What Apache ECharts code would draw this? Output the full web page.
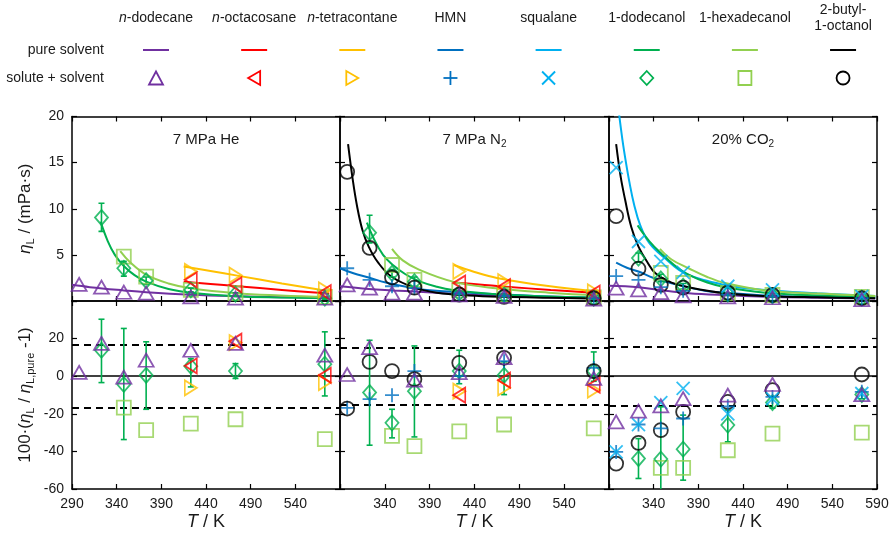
<!DOCTYPE html>
<html>
<head>
<meta charset="utf-8">
<script src="https://cdn.jsdelivr.net/npm/echarts@6/dist/echarts.min.js"></script>
<style>
  html, body { margin: 0; padding: 0; background: #fff; }
  #chart { width: 895px; height: 538px; }
</style>
</head>
<body>
<div id="chart"></div>
<script>
// ---- temperatures and ticks (K) ----
const temps = [298, 323, 348, 373, 423, 473, 573];
const tempTicks = [290, 340, 390, 440, 490, 540, 590];
const tempLabelsHe = [290, 340, 390, 440, 490, 540];
const tempLabelsN2 = [340, 390, 440, 490, 540];
const tempLabelsCO2 = [340, 390, 440, 490, 540, 590];
const viscLabels = [5, 10, 15, 20];
const devLabels = [-60, -40, -20, 0, 20];

const solvents = ['n-dodecane', 'n-octacosane', 'n-tetracontane', 'HMN', 'squalane', '1-dodecanol', '1-hexadecanol', '2-butyl-1-octanol'];
const legendHeaders = ['{i|n}-dodecane', '{i|n}-octacosane', '{i|n}-tetracontane', 'HMN', 'squalane', '1-dodecanol', '1-hexadecanol', '2-butyl-\n1-octanol'];
const panelTitles = ['7 MPa He', '7 MPa N{s|2}', '20% CO{s|2}'];
const bandHalfWidth = [16.6, 15.2, 15.6];

// ---- 7 MPa He: viscosity of solute + solvent (mPa s) ----
const heDodecane = [1.8, 1.5, 0.95, 0.85, 0.45, 0.32, 0.3];
const heOctacosane = [null, null, null, null, 2.3, 1.75, 0.9];
const heTetracontane = [null, null, null, null, 3.2, 2.8, 1.2];
const heDodecanol = [null, 9.05, 3.55, 2.2, 1.2, 0.75, 0.3];
const heDodecanolErrLo = [null, 7.55, 2.7, 1.8, 1.0, 0.6, 0.2];
const heDodecanolErrHi = [null, 10.6, 4.3, 2.6, 1.4, 0.9, 0.4];
const heHexadecanol = [null, null, 4.8, 2.65, 1.2, 0.85, 0.45];
// pure solvent curves [T, viscosity]
const heDodecanePure = [[290, 1.75], [310, 1.5], [348, 1.15], [373, 0.95], [423, 0.68], [473, 0.52], [523, 0.42], [578, 0.35]];
const heOctacosanePure = [[415, 2.1], [445, 1.85], [475, 1.6], [525, 1.2], [578, 0.8]];
const heTetracontanePure = [[415, 3.75], [445, 3.25], [475, 2.75], [525, 1.9], [578, 1.05]];
const heDodecanolPure = [[322, 8.6], [330, 6.5], [338, 5.0], [348, 3.8], [360, 2.8], [373, 2.1], [398, 1.3], [423, 0.9], [473, 0.52], [523, 0.38], [578, 0.3]];
const heHexadecanolPure = [[344, 5.4], [355, 4.2], [373, 2.85], [398, 1.9], [423, 1.38], [473, 0.85], [523, 0.6], [578, 0.43]];
// relative deviation from pure solvent (%)
const heDodecaneDev = [2.0, 17.5, -0.5, 8.5, 13.8, 17.5, 11.2];
const heOctacosaneDev = [null, null, null, null, 5.5, 18.6, 0.5];
const heTetracontaneDev = [null, null, null, null, -6.2, 17.9, -3.4];
const heDodecanolDev = [null, 13.8, -4.4, 0.5, 5.3, 2.7, 6.4];
const heDodecanolDevLo = [null, -3.4, -33.7, -17.6, -5.7, -1.2, -10.5];
const heDodecanolDevHi = [null, 30.3, 25.4, 18.3, 9.4, 6.7, 23.6];
const heHexadecanolDev = [null, null, -16.7, -28.7, -25.2, -22.9, -33.5];

// ---- 7 MPa N2 ----
const n2Dodecane = [1.75, 1.4, 0.85, 0.85, 0.65, 0.5, 0.2];
const n2Octacosane = [null, null, null, null, 1.95, 1.55, 0.85];
const n2Tetracontane = [null, null, null, null, 3.2, 2.1, 1.0];
const n2HMN = [3.55, 2.3, 1.6, 1.4, 0.8, 0.55, 0.3];
const n2Dodecanol = [null, 7.4, 3.0, 2.1, 0.85, 0.65, 0.3];
const n2DodecanolErrLo = [null, 6.3, 2.6, 1.6, 0.7, 0.5, 0.2];
const n2DodecanolErrHi = [null, 9.3, 3.4, 2.6, 1.0, 0.8, 0.4];
const n2Hexadecanol = [null, null, 3.9, 2.3, 1.15, 0.7, 0.4];
const n2Octanol = [14.0, 5.75, 2.55, 1.45, 0.7, 0.45, 0.3];
const n2DodecanePure = [[290, 1.6], [322, 1.3], [348, 1.15], [378, 1.0], [434, 0.7], [473, 0.55], [523, 0.42], [581, 0.3]];
const n2OctacosanePure = [[417, 2.0], [445, 1.8], [475, 1.55], [525, 1.2], [581, 0.85]];
const n2TetracontanePure = [[417, 3.9], [440, 3.15], [465, 2.5], [520, 1.65], [581, 1.0]];
const n2HMNPure = [[290, 3.55], [305, 3.0], [322, 2.55], [341, 2.0], [378, 1.3], [416, 1.0], [464, 0.73], [523, 0.5], [581, 0.35]];
const n2DodecanolPure = [[320, 8.5], [328, 6.7], [338, 5.0], [349, 3.9], [363, 2.9], [378, 2.15], [398, 1.55], [416, 1.2], [464, 0.73], [523, 0.5], [581, 0.35]];
const n2HexadecanolPure = [[348, 5.65], [360, 4.4], [378, 3.4], [416, 2.1], [464, 1.38], [523, 0.9], [581, 0.6]];
const n2OctanolPure = [[299, 17], [304, 13.3], [309, 10.3], [315, 7.7], [322, 5.9], [333, 4.1], [348, 2.6], [373, 1.45], [398, 0.9], [434, 0.6], [473, 0.45], [523, 0.35], [581, 0.25]];
const n2DodecaneDev = [0.9, 15.2, null, -2.1, 1.9, 9.8, -1.2];
const n2OctacosaneDev = [null, null, null, null, -10.1, -2.1, -4.8];
const n2TetracontaneDev = [null, null, null, null, -8.0, -6.2, -7.4];
const n2HMNDev = [-16.8, -12.2, -10.1, 2.7, 0, 8, 4.4];
const n2DodecanolDev = [null, -8.7, -24.8, -8.0, 2.7, 0.5, 2.7];
const n2DodecanolDevLo = [null, -36.7, -32.8, -32.3, -4, -9.8, -2.7];
const n2DodecanolDevHi = [null, 19.1, -17.6, 16.1, 13.8, 7.6, 12.9];
const n2HexadecanolDev = [null, null, -31.7, -37.2, -29.3, -25.7, -27.8];
const n2OctanolDev = [-17.2, 7.6, 2.7, -1.6, 7.1, 9.8, 2.7];

// ---- 20% CO2 ----
const co2Dodecane = [1.4, 1.2, 0.9, 0.55, 0.45, 0.35, 0.15];
const co2HMN = [2.7, 2.3, 1.5, 1.1, 0.7, 0.5, 0.3];
const co2Squalane = [14.45, 6.45, 4.3, 3.1, 1.6, 1.2, 0.5];
const co2Dodecanol = [null, 4.65, 2.4, 1.6, 0.75, 0.55, 0.3];
const co2DodecanolErrLo = [null, 4.2, 2.1, 1.3, 0.6, 0.45, 0.2];
const co2DodecanolErrHi = [null, 5.2, 2.9, 1.9, 0.9, 0.65, 0.4];
const co2Hexadecanol = [null, null, 3.05, 1.95, 0.85, 0.65, 0.45];
const co2Octanol = [9.2, 3.5, 1.75, 1.45, 0.9, 0.65, 0.3];
const co2DodecanePure = [[290, 1.65], [323, 1.5], [350, 1.15], [379, 0.85], [423, 0.62], [465, 0.45], [523, 0.35], [588, 0.28]];
const co2HMNPure = [[298, 4.15], [310, 3.6], [323, 3.2], [340, 2.5], [360, 1.93], [397, 1.12], [423, 0.9], [465, 0.6], [523, 0.45], [588, 0.35]];
const co2SqualanePure = [[301, 20.5], [305, 17.5], [309, 15], [313, 12.8], [318, 10.5], [325, 8.2], [335, 6.3], [353, 4.6], [375, 3.0], [420, 1.74], [465, 1.2], [523, 0.85], [588, 0.55]];
const co2DodecanolPure = [[322, 8.2], [335, 6.5], [349, 5.1], [363, 3.9], [379, 2.85], [400, 2.0], [420, 1.5], [465, 0.9], [523, 0.6], [588, 0.45]];
const co2HexadecanolPure = [[347, 5.65], [360, 4.5], [379, 3.55], [400, 2.6], [420, 1.95], [465, 1.15], [523, 0.8], [588, 0.55]];
const co2OctanolPure = [[298, 17], [303, 13.5], [308, 11], [315, 8], [323, 5.9], [333, 4.2], [342, 3.0], [360, 2.0], [379, 1.5], [420, 0.84], [465, 0.55], [523, 0.4], [588, 0.3]];
const co2DodecaneDev = [-24.3, -18.6, -15.8, -11.9, -10.1, -4.4, -9.8];
const co2HMNDev = [-40.3, -25.7, -27.8, -22.5, -16, -11, -8.3];
const co2SqualaneDev = [-40.3, -25.7, -14, -6.5, -20, -12, -9.2];
const co2DodecanolDev = [null, -43.8, -44.1, -38.8, -26, -14, -9.8];
const co2DodecanolDevLo = [null, -54.4, -65, -55.3, -34.9, -17, -12];
const co2DodecanolDevHi = [null, -33.2, -16.3, -20.7, -18, -11, -8];
const co2HexadecanolDev = [null, null, -48.8, -48.8, -39.4, -30.5, -30];
const co2OctanolDev = [-46.5, -35.5, -28.7, -19, -13.7, -7.4, 0.9];

// ---- appearance ----
const FONT = 'Liberation Sans, Arial, sans-serif';
const solventStyle = {
  'n-dodecane':        { color: '#7030A0', symbol: 'triangle', size: [15, 13] },
  'n-octacosane':      { color: '#FF0000', symbol: 'path://M0,6L12,0L12,12Z', size: [12, 15] },
  'n-tetracontane':    { color: '#FFC000', symbol: 'path://M12,6L0,0L0,12Z', size: [12, 15] },
  'HMN':               { color: '#0070C0', symbol: 'path://M6,0L6,12M0,6L12,6', size: [14, 14] },
  'squalane':          { color: '#00B0F0', symbol: 'path://M0,0L12,12M12,0L0,12', size: [13, 13] },
  '1-dodecanol':       { color: '#00B050', symbol: 'diamond', size: [13, 15] },
  '1-hexadecanol':     { color: '#92D050', symbol: 'rect', size: [14, 14] },
  '2-butyl-1-octanol': { color: '#000000', symbol: 'circle', size: [14, 14] }
};

const panels = [
  {
    labels: tempLabelsHe, band: bandHalfWidth[0],
    pure: [['n-dodecane', heDodecanePure], ['n-octacosane', heOctacosanePure], ['n-tetracontane', heTetracontanePure],
           ['1-dodecanol', heDodecanolPure], ['1-hexadecanol', heHexadecanolPure]],
    points: [['1-hexadecanol', heHexadecanol], ['1-dodecanol', heDodecanol], ['n-tetracontane', heTetracontane],
             ['n-octacosane', heOctacosane], ['n-dodecane', heDodecane]],
    err: [['1-dodecanol', heDodecanolErrLo, heDodecanolErrHi]],
    dev: [['1-hexadecanol', heHexadecanolDev], ['1-dodecanol', heDodecanolDev], ['n-tetracontane', heTetracontaneDev],
          ['n-octacosane', heOctacosaneDev], ['n-dodecane', heDodecaneDev]],
    devErr: [['1-dodecanol', heDodecanolDevLo, heDodecanolDevHi]]
  },
  {
    labels: tempLabelsN2, band: bandHalfWidth[1],
    pure: [['n-dodecane', n2DodecanePure], ['n-octacosane', n2OctacosanePure], ['n-tetracontane', n2TetracontanePure],
           ['HMN', n2HMNPure], ['1-dodecanol', n2DodecanolPure], ['1-hexadecanol', n2HexadecanolPure],
           ['2-butyl-1-octanol', n2OctanolPure]],
    points: [['1-hexadecanol', n2Hexadecanol], ['1-dodecanol', n2Dodecanol], ['n-tetracontane', n2Tetracontane],
             ['n-octacosane', n2Octacosane], ['HMN', n2HMN], ['2-butyl-1-octanol', n2Octanol], ['n-dodecane', n2Dodecane]],
    err: [['1-dodecanol', n2DodecanolErrLo, n2DodecanolErrHi]],
    dev: [['1-hexadecanol', n2HexadecanolDev], ['1-dodecanol', n2DodecanolDev], ['n-tetracontane', n2TetracontaneDev],
          ['n-octacosane', n2OctacosaneDev], ['HMN', n2HMNDev], ['2-butyl-1-octanol', n2OctanolDev], ['n-dodecane', n2DodecaneDev]],
    devErr: [['1-dodecanol', n2DodecanolDevLo, n2DodecanolDevHi]]
  },
  {
    labels: tempLabelsCO2, band: bandHalfWidth[2],
    pure: [['n-dodecane', co2DodecanePure], ['HMN', co2HMNPure], ['squalane', co2SqualanePure],
           ['1-dodecanol', co2DodecanolPure], ['1-hexadecanol', co2HexadecanolPure], ['2-butyl-1-octanol', co2OctanolPure]],
    points: [['1-hexadecanol', co2Hexadecanol], ['1-dodecanol', co2Dodecanol], ['2-butyl-1-octanol', co2Octanol],
             ['HMN', co2HMN], ['squalane', co2Squalane], ['n-dodecane', co2Dodecane]],
    err: [['1-dodecanol', co2DodecanolErrLo, co2DodecanolErrHi]],
    dev: [['1-hexadecanol', co2HexadecanolDev], ['1-dodecanol', co2DodecanolDev], ['2-butyl-1-octanol', co2OctanolDev],
          ['HMN', co2HMNDev], ['squalane', co2SqualaneDev], ['n-dodecane', co2DodecaneDev]],
    devErr: [['1-dodecanol', co2DodecanolDevLo, co2DodecanolDevHi]]
  }
];

// ---- layout ----
const colLeft = [72, 340, 609];
const colWidth = [268, 269, 268];
const rowTop = [116.5, 301];
const rowHeight = [184.5, 188];

const grids = [];
const xAxes = [];
const yAxes = [];
const series = [];

const axisLine = { show: true, onZero: false, lineStyle: { color: '#000', width: 1.5 } };
const tickStyle = { color: '#000', width: 1.2 };
const labelStyle = { fontSize: 14, color: '#1a1a1a', fontFamily: FONT };
const subRich = {
  i: { fontStyle: 'italic', fontSize: 17, fontFamily: FONT, color: '#1a1a1a' },
  n: { fontSize: 17, fontFamily: FONT, color: '#1a1a1a' },
  s: { fontSize: 11, fontFamily: FONT, color: '#1a1a1a', padding: [11, 0, 0, 0] }
};

for (let r = 0; r < 2; r++) {
  for (let c = 0; c < 3; c++) {
    const g = r * 3 + c;
    grids.push({ left: colLeft[c], top: rowTop[r], width: colWidth[c], height: rowHeight[r], containLabel: false });
    const xBase = {
      type: 'value', gridIndex: g, min: 290, max: 590, axisLine,
      axisTick: { show: true, inside: true, length: 5, customValues: tempTicks, lineStyle: tickStyle },
      splitLine: { show: false }
    };
    const xBottom = Object.assign({}, xBase, {
      position: 'bottom',
      axisLabel: r === 1 ? Object.assign({ show: true, customValues: panels[c].labels, margin: 8 }, labelStyle) : { show: false }
    });
    if (r === 1) {
      Object.assign(xBottom, {
        name: '{i|T}{n| / K}', nameLocation: 'middle', nameGap: 24,
        nameTextStyle: { rich: { i: { fontStyle: 'italic', fontSize: 18, fontFamily: FONT, color: '#1a1a1a' },
                                 n: { fontSize: 18, fontFamily: FONT, color: '#1a1a1a' } } }
      });
    }
    const xTop = Object.assign({}, xBase, { position: 'top', axisLabel: { show: false } });
    xAxes.push(xBottom, xTop);

    const yRange = r === 0 ? { min: 0, max: 20, interval: 5 } : { min: -60, max: 40, interval: 20 };
    const yBase = Object.assign({
      type: 'value', gridIndex: g, axisLine,
      axisTick: { show: true, inside: true, length: 5, lineStyle: tickStyle },
      splitLine: { show: false }
    }, yRange);
    const yLeft = Object.assign({}, yBase, {
      position: 'left',
      axisLabel: c === 0 ? Object.assign({ show: true, customValues: r === 0 ? viscLabels : devLabels, margin: 8 }, labelStyle) : { show: false }
    });
    if (c === 0) {
      Object.assign(yLeft, {
        name: r === 0 ? '{i|η}{s|L}{n| / (mPa·s)}' : '{n|100·(}{i|η}{s|L}{n| / }{i|η}{s|L,pure}{n| -1)}',
        nameLocation: 'middle', nameRotate: 90, nameGap: 36,
        nameTextStyle: { rich: subRich }
      });
    }
    const yRight = Object.assign({}, yBase, { position: 'right', axisLabel: { show: false } });
    yAxes.push(yLeft, yRight);
  }
}

function pointData(values) {
  return temps.map((t, k) => (values[k] == null ? null : [t, values[k]])).filter(Boolean);
}

function scatterSeries(name, values, axisIdx) {
  const st = solventStyle[name];
  return {
    type: 'scatter', name, xAxisIndex: axisIdx, yAxisIndex: axisIdx, data: pointData(values),
    symbol: st.symbol, symbolSize: st.size, z: 5, clip: true,
    itemStyle: { color: 'rgba(0,0,0,0)', borderColor: st.color, borderWidth: 1.8 },
    emphasis: { disabled: true }
  };
}

function curveSeries(name, pts, axisIdx) {
  return {
    type: 'line', name: name + ' (pure)', xAxisIndex: axisIdx, yAxisIndex: axisIdx, data: pts,
    smooth: 0.4, showSymbol: false, symbol: 'none', clip: true, z: 2,
    lineStyle: { color: solventStyle[name].color, width: 2 },
    emphasis: { disabled: true }
  };
}

function errorSeries(name, lows, highs, axisIdx) {
  const color = solventStyle[name].color;
  const data = temps.map((t, k) => (lows[k] == null ? null : [t, lows[k], highs[k]])).filter(Boolean);
  return {
    type: 'custom', name: name + ' (error)', xAxisIndex: axisIdx, yAxisIndex: axisIdx, data, z: 3, clip: true,
    encode: { x: 0, y: [1, 2] },
    renderItem(params, api) {
      const t = api.value(0);
      const lo = api.coord([t, api.value(1)]);
      const hi = api.coord([t, api.value(2)]);
      const cap = 3;
      const style = { stroke: color, lineWidth: 1.6 };
      return {
        type: 'group',
        children: [
          { type: 'line', shape: { x1: lo[0], y1: lo[1], x2: hi[0], y2: hi[1] }, style },
          { type: 'line', shape: { x1: lo[0] - cap, y1: lo[1], x2: lo[0] + cap, y2: lo[1] }, style },
          { type: 'line', shape: { x1: hi[0] - cap, y1: hi[1], x2: hi[0] + cap, y2: hi[1] }, style }
        ]
      };
    }
  };
}

panels.forEach((p, c) => {
  const topAxis = 2 * c;
  const botAxis = 2 * (3 + c);
  p.pure.forEach(([name, pts]) => series.push(curveSeries(name, pts, topAxis)));
  p.err.forEach(([name, lo, hi]) => series.push(errorSeries(name, lo, hi, topAxis)));
  p.points.forEach(([name, vals]) => series.push(scatterSeries(name, vals, topAxis)));

  p.devErr.forEach(([name, lo, hi]) => series.push(errorSeries(name, lo, hi, botAxis)));
  p.dev.forEach(([name, vals], k) => {
    const s = scatterSeries(name, vals, botAxis);
    if (k === 0) {
      s.markLine = {
        silent: true, symbol: ['none', 'none'], label: { show: false }, animation: false, z: 1,
        data: [
          { yAxis: 0, lineStyle: { type: 'solid', width: 1.5, color: '#000' } },
          { yAxis: p.band, lineStyle: { type: [7, 5], width: 2, color: '#000' } },
          { yAxis: -p.band, lineStyle: { type: [7, 5], width: 2, color: '#000' } }
        ]
      };
    }
    series.push(s);
  });
});

// ---- panel titles and legend ----
const graphics = [];
const titleRich = {
  n: { fontSize: 15, fontFamily: FONT, fill: '#1a1a1a' },
  s: { fontSize: 10, fontFamily: FONT, fill: '#1a1a1a', padding: [9, 0, 0, 0] }
};
panelTitles.forEach((txt, c) => {
  const parts = txt.split('{s|');
  const text = '{n|' + parts[0] + '}' + (parts[1] ? '{s|' + parts[1] : '');
  graphics.push({
    type: 'text', x: colLeft[c] + colWidth[c] / 2, y: 140,
    style: { text, rich: titleRich, align: 'center', verticalAlign: 'middle' }
  });
});

const legendX0 = 156;
const legendStep = 98.15;
const legendRowY = [50, 78];
const headRich = {
  i: { fontStyle: 'italic', fontSize: 14, fontFamily: FONT, fill: '#1a1a1a', lineHeight: 16 },
  t: { fontSize: 14, fontFamily: FONT, fill: '#1a1a1a', lineHeight: 16 }
};
graphics.push(
  { type: 'text', x: 104, y: legendRowY[0], style: { text: 'pure solvent', font: '14px ' + FONT, fill: '#1a1a1a', align: 'right', verticalAlign: 'middle' } },
  { type: 'text', x: 104, y: legendRowY[1], style: { text: 'solute + solvent', font: '14px ' + FONT, fill: '#1a1a1a', align: 'right', verticalAlign: 'middle' } }
);

function legendMarker(name, x, y) {
  const col = solventStyle[name].color;
  const st = { fill: 'none', stroke: col, lineWidth: 1.8 };
  switch (name) {
    case 'n-dodecane':
      return { type: 'polygon', shape: { points: [[x - 7, y + 6.5], [x + 7, y + 6.5], [x, y - 6.5]] }, style: st };
    case 'n-octacosane':
      return { type: 'polygon', shape: { points: [[x - 6, y], [x + 6, y - 7], [x + 6, y + 7]] }, style: st };
    case 'n-tetracontane':
      return { type: 'polygon', shape: { points: [[x + 6, y], [x - 6, y - 7], [x - 6, y + 7]] }, style: st };
    case 'HMN':
      return { type: 'group', children: [
        { type: 'line', shape: { x1: x - 7, y1: y, x2: x + 7, y2: y }, style: st },
        { type: 'line', shape: { x1: x, y1: y - 7, x2: x, y2: y + 7 }, style: st }] };
    case 'squalane':
      return { type: 'group', children: [
        { type: 'line', shape: { x1: x - 6.5, y1: y - 6.5, x2: x + 6.5, y2: y + 6.5 }, style: st },
        { type: 'line', shape: { x1: x + 6.5, y1: y - 6.5, x2: x - 6.5, y2: y + 6.5 }, style: st }] };
    case '1-dodecanol':
      return { type: 'polygon', shape: { points: [[x, y - 7], [x + 6.5, y], [x, y + 7], [x - 6.5, y]] }, style: st };
    case '1-hexadecanol':
      return { type: 'rect', shape: { x: x - 6.5, y: y - 7, width: 13, height: 14 }, style: st };
    default:
      return { type: 'circle', shape: { cx: x, cy: y, r: 6.5 }, style: st };
  }
}

solvents.forEach((name, k) => {
  const x = legendX0 + k * legendStep;
  const header = legendHeaders[k];
  const lines = header.split('\n');
  const text = lines.map(l => (l.indexOf('{i|') === 0 ? l.replace(/\}(.*)$/, '}{t|$1}') : '{t|' + l + '}')).join('\n');
  graphics.push({
    type: 'text', x, y: 18,
    style: { text, rich: headRich, align: 'center', verticalAlign: 'middle' }
  });
  graphics.push({
    type: 'line', shape: { x1: x - 13, y1: legendRowY[0], x2: x + 13, y2: legendRowY[0] },
    style: { stroke: solventStyle[name].color, lineWidth: 2 }
  });
  graphics.push(legendMarker(name, x, legendRowY[1]));
});

const chart = echarts.init(document.getElementById('chart'), null, { renderer: 'canvas' });
chart.setOption({
  animation: false,
  backgroundColor: '#fff',
  textStyle: { fontFamily: FONT },
  grid: grids,
  xAxis: xAxes,
  yAxis: yAxes,
  series,
  graphic: graphics
});
</script>
</body>
</html>
